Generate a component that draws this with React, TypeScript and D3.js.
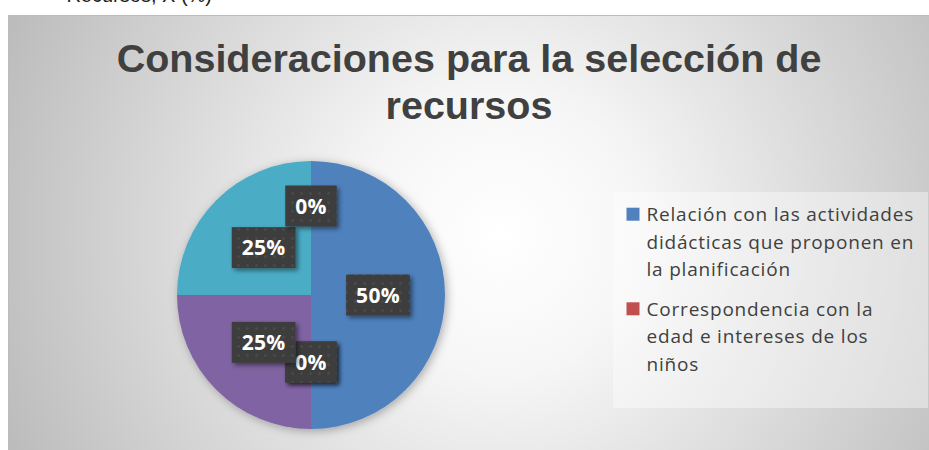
import React from 'react';
import * as d3 from 'd3';

// ---- data ----
const categories: string[] = [
  'Relación con las actividades didácticas que proponen en la planificación',
  'Correspondencia con la edad e intereses de los niños',
  'Categoría 3',
  'Categoría 4',
  'Categoría 5',
  'Categoría 6',
];
const values: number[] = [50, 0, 0, 25, 25, 0];
const colors: string[] = ['#4F81BD', '#C0504D', '#9BBB59', '#8064A2', '#4BACC6', '#F79646'];
const titleLines: string[] = ['Consideraciones para la selección de', 'recursos'];
const captionText = 'Recursos, X (%)';

// ---- layout ----
const W = 929;
const H = 450;
const chart = { x: 8.5, y: 15.5, w: 940, h: 450 };
const cx = 311;
const cy = 295;
const R = 134;
const legendBox = { x: 613, y: 192, w: 315, h: 216 };
const legendTextX = 646.5;
const legendFirstBaseline = 221;
const legendLineH = 27.7;
const legendGap = 11.5;
const legendFontSize = 19;
const legendLS = 0.8;
const legendFont = `${legendFontSize}px "Open Sans"`;
const labelFontSize = 21;
const labelLS = 0.3;
const labelFont = `bold ${labelFontSize}px "Open Sans"`;
const labelBoxH = 41;
const labelPad = 10;

let _ctx: CanvasRenderingContext2D | null = null;
function measure(text: string, font: string, ls = 0): number {
  if (!_ctx) _ctx = document.createElement('canvas').getContext('2d');
  if (!_ctx) return text.length * 10;
  _ctx.font = font;
  return _ctx.measureText(text).width + ls * text.length;
}

function wrap(text: string, font: string, maxW: number, ls: number): string[] {
  const words = text.split(' ');
  const lines: string[] = [];
  let cur = '';
  for (const w of words) {
    const t = cur ? cur + ' ' + w : w;
    if (cur && measure(t, font, ls) > maxW) {
      lines.push(cur);
      cur = w;
    } else cur = t;
  }
  if (cur) lines.push(cur);
  return lines;
}

type Box = { x0: number; y0: number; x1: number; y1: number };
const overlaps = (a: Box, b: Box) => a.x0 < b.x1 && b.x0 < a.x1 && a.y0 < b.y1 && b.y0 < a.y1;

export default function App() {
  const total = d3.sum(values);
  const pie = d3.pie<number>().sort(null).value((d) => d);
  const arcs = pie(values);
  const arc = d3.arc<d3.PieArcDatum<number>>().innerRadius(0).outerRadius(R);
  const fmt = (v: number) => `${Math.round((v / total) * 100)}%`;

  // label placement: centroid at R/2; zero-value labels yield outward when colliding with nonzero labels
  const placed: { box: Box; value: number }[] = [];
  const labels = arcs.map((a, i) => {
    const text = fmt(a.data);
    const tw = measure(text, labelFont, labelLS);
    const bw = tw + labelPad * 2;
    const ang = (a.startAngle + a.endAngle) / 2;
    let rr = R / 2;
    const mk = (r: number): Box => {
      const x = cx + Math.sin(ang) * r;
      const y = cy - Math.cos(ang) * r;
      return { x0: x - bw / 2, y0: y - labelBoxH / 2, x1: x + bw / 2, y1: y + labelBoxH / 2 };
    };
    let box = mk(rr);
    if (a.data === 0) {
      let guard = 0;
      while (placed.some((p) => p.value > 0 && overlaps(p.box, box)) && guard < 200) {
        rr += 1;
        box = mk(rr);
        guard++;
      }
    }
    placed.push({ box, value: a.data });
    return { text, box, i };
  });

  // legend
  const maxLegendW = 271;
  const legendItems: { lines: string[]; y: number; color: string }[] = [];
  let yCursor = legendFirstBaseline;
  categories.forEach((c, i) => {
    const lines = wrap(c, legendFont, maxLegendW, legendLS);
    const bottom = yCursor + (lines.length - 1) * legendLineH + 8;
    if (bottom <= legendBox.y + legendBox.h) {
      legendItems.push({ lines, y: yCursor, color: colors[i] });
    }
    yCursor += lines.length * legendLineH + legendGap;
  });

  return (
    <svg
      width={W}
      height={H}
      style={{ position: 'absolute', left: 0, top: 0, background: '#ffffff' }}
    >
      <defs>
        <radialGradient id="bg" gradientUnits="userSpaceOnUse" cx={500} cy={235} r={560}>
          <stop offset="0" stopColor="#ffffff" />
          <stop offset="0.25" stopColor="#f6f6f6" />
          <stop offset="1" stopColor="#b8b8b8" />
        </radialGradient>
        <filter id="pieShadow" x="-20%" y="-20%" width="140%" height="140%">
          <feDropShadow dx="2" dy="2" stdDeviation="5" floodColor="#000" floodOpacity="0.3" />
        </filter>
        <filter id="lblShadow" x="-30%" y="-30%" width="160%" height="160%">
          <feDropShadow dx="2.5" dy="2.5" stdDeviation="2" floodColor="#000" floodOpacity="0.45" />
        </filter>
        <pattern id="dots" width="9" height="9" patternUnits="userSpaceOnUse">
          <rect width="9" height="9" fill="#3e3e3e" />
          <circle cx="4.5" cy="4.5" r="1.3" fill="#4c4c4c" />
        </pattern>
      </defs>

      <text
        x={212}
        y={2}
        textAnchor="end"
        fontFamily='"Liberation Sans", Arial, sans-serif'
        fontSize={20}
        fill="#222"
      >
        {captionText}
      </text>

      <rect
        x={chart.x}
        y={chart.y}
        width={chart.w}
        height={chart.h}
        fill="url(#bg)"
        stroke="#bcbcbc"
        strokeWidth={1}
      />

      {titleLines.map((t, i) => (
        <text
          key={i}
          x={469}
          y={72 + i * 47}
          textAnchor="middle"
          fontFamily='"Liberation Sans", Arial, sans-serif'
          fontWeight="bold"
          fontSize={39.5}
          fill="#404040"
        >
          {t}
        </text>
      ))}

      <g transform={`translate(${cx},${cy})`} filter="url(#pieShadow)">
        {arcs.map((a, i) =>
          a.endAngle > a.startAngle ? <path key={i} d={arc(a) || ''} fill={colors[i]} /> : null
        )}
      </g>

      {labels.map((l) => (
        <g key={l.i}>
          <rect
            x={l.box.x0}
            y={l.box.y0}
            width={l.box.x1 - l.box.x0}
            height={l.box.y1 - l.box.y0}
            fill="url(#dots)"
            filter="url(#lblShadow)"
          />
          <text
            x={(l.box.x0 + l.box.x1) / 2}
            y={(l.box.y0 + l.box.y1) / 2 + 7.5}
            textAnchor="middle"
            fontFamily='"Open Sans", sans-serif'
            fontWeight="bold"
            fontSize={labelFontSize}
            letterSpacing={labelLS}
            fill="#ffffff"
          >
            {l.text}
          </text>
        </g>
      ))}

      <rect
        x={legendBox.x}
        y={legendBox.y}
        width={legendBox.w}
        height={legendBox.h}
        fill="#ffffff"
        fillOpacity={0.4}
      />
      {legendItems.map((it, i) => (
        <g key={i}>
          <rect x={626.5} y={it.y - 13.3} width={13} height={13} fill={it.color} />
          {it.lines.map((ln, j) => (
            <text
              key={j}
              x={legendTextX}
              y={it.y + j * legendLineH}
              fontFamily='"Open Sans", sans-serif'
              fontSize={legendFontSize}
              letterSpacing={legendLS}
              fill="#404040"
            >
              {ln}
            </text>
          ))}
        </g>
      ))}
    </svg>
  );
}
